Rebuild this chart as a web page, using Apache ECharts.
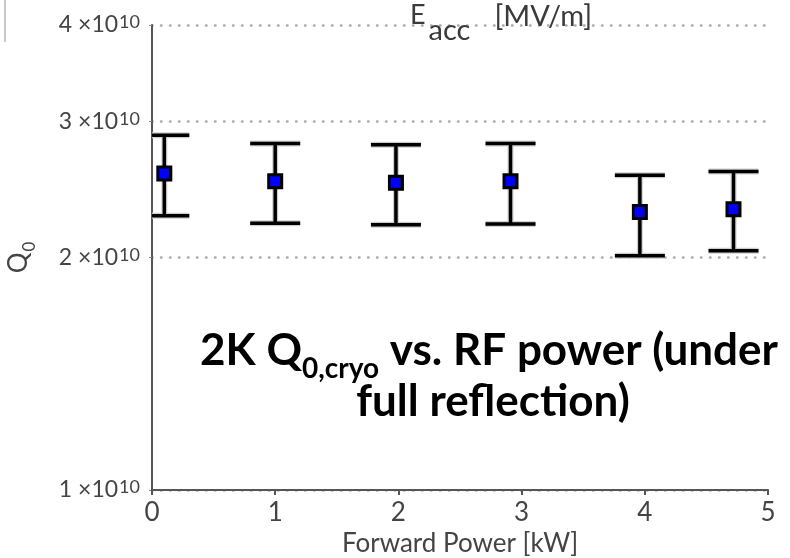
<!DOCTYPE html>
<html><head><meta charset="utf-8">
<script src="https://cdn.jsdelivr.net/npm/echarts@6/dist/echarts.min.js"></script>
<style>html,body{margin:0;padding:0;background:#fff}#c{width:790px;height:558px}</style>
</head><body><div id="c"></div>
<script>
// Forward power [kW]
const forwardPower = [0.1, 1.0, 1.98, 2.91, 3.96, 4.72];
// Q0 central values and error-bar bounds
const q0 = [2.57e10, 2.51e10, 2.50e10, 2.51e10, 2.29e10, 2.31e10];
const q0Upper = [2.88e10, 2.81e10, 2.80e10, 2.81e10, 2.555e10, 2.585e10];
const q0Lower = [2.265e10, 2.215e10, 2.205e10, 2.21e10, 2.01e10, 2.04e10];
// Axis ticks
const xTicks = [0, 1, 2, 3, 4, 5];
const yTicks = [1e10, 2e10, 3e10, 4e10];

const FONT = 'Lato, "DejaVu Sans", sans-serif';
const TXT = '#444';

const points = forwardPower.map((x, i) => [x, q0[i]]);
const bars = forwardPower.map((x, i) => [x, q0Lower[i], q0Upper[i]]);

const chart = echarts.init(document.getElementById('c'), null, {renderer: 'canvas'});
chart.setOption({
  animation: false,
  backgroundColor: '#fff',
  grid: {left: 152, right: 22, top: 25, bottom: 68, containLabel: false, outerBoundsMode: 'none'},
  xAxis: {
    type: 'value', min: xTicks[0], max: xTicks[xTicks.length - 1], interval: 1,
    axisLine: {show: true, lineStyle: {color: '#555', width: 2}},
    axisTick: {show: true, length: 5, lineStyle: {color: '#555', width: 2}},
    axisLabel: {fontSize: 26, color: TXT, fontFamily: FONT, margin: 10},
    splitLine: {show: false},
    name: 'Forward Power [kW]', nameLocation: 'middle', nameGap: 39,
    nameTextStyle: {fontSize: 26, color: TXT, fontFamily: FONT}
  },
  yAxis: {
    type: 'log', logBase: 10, min: yTicks[0], max: yTicks[yTicks.length - 1],
    axisLine: {show: true, lineStyle: {color: '#555', width: 2}},
    axisTick: {show: true, customValues: yTicks, length: 3, lineStyle: {color: '#888', width: 1}},
    axisLabel: {
      customValues: yTicks, margin: 12, fontFamily: FONT,
      formatter: function (v) {
        const m = Math.round(v / 1e10);
        return '{m|' + m + ' \u00d710}{s|10}';
      },
      rich: {
        m: {fontSize: 23, color: TXT, fontFamily: FONT, lineHeight: 23, verticalAlign: 'bottom', padding: [13, 0, 0, 0]},
        s: {fontSize: 18, color: TXT, fontFamily: FONT, lineHeight: 18, verticalAlign: 'top', padding: [0, 0, 0, 1]}
      }
    },
    splitLine: {show: true, lineStyle: {type: [0.5, 8.5], color: '#aaa', width: 2.5, cap: 'round'}},
    name: '{q|Q}{s|0}', nameLocation: 'middle', nameRotate: 90, nameGap: 120,
    nameTextStyle: {
      rich: {
        q: {fontSize: 26, color: TXT, fontFamily: FONT, lineHeight: 26, verticalAlign: 'top'},
        s: {fontSize: 17, color: TXT, fontFamily: FONT, lineHeight: 17, verticalAlign: 'top', padding: [15, 0, 0, 1]}
      }
    }
  },
  series: [
    {
      type: 'custom', data: bars, clip: true, z: 2,
      encode: {x: 0, y: [1, 2]},
      renderItem: function (params, api) {
        const x = api.value(0);
        const pLo = api.coord([x, api.value(1)]);
        const pHi = api.coord([x, api.value(2)]);
        const hw = 25;
        const segs = [
          [pHi[0], pHi[1], pLo[0], pLo[1]],
          [pHi[0] - hw, pHi[1], pHi[0] + hw, pHi[1]],
          [pLo[0] - hw, pLo[1], pLo[0] + hw, pLo[1]]
        ];
        const children = [];
        segs.forEach(s => children.push({type: 'line', shape: {x1: s[0], y1: s[1], x2: s[2], y2: s[3]}, style: {stroke: '#cfcfcf', lineWidth: 6}}));
        segs.forEach(s => children.push({type: 'line', shape: {x1: s[0], y1: s[1], x2: s[2], y2: s[3]}, style: {stroke: '#000', lineWidth: 3.5}}));
        return {type: 'group', children: children};
      }
    },
    {
      type: 'scatter', data: points, z: 3, clip: false,
      symbol: 'rect', symbolSize: 13,
      itemStyle: {color: '#0000ff', borderColor: '#000', borderWidth: 3, opacity: 1}
    }
  ],
  graphic: [
    {type: 'line', shape: {x1: 5, y1: 0, x2: 5, y2: 42}, style: {stroke: '#c8c8c8', lineWidth: 2}},
    {
      type: 'text', x: 410, y: 2, z: 10,
      style: {
        text: '{e|E}{a|acc}{m|[MV/m]}', align: 'left', verticalAlign: 'top',
        rich: {
          e: {fontSize: 27, fill: '#3a3a3a', fontFamily: FONT, lineHeight: 27, verticalAlign: 'top'},
          a: {fontSize: 29, fill: '#3a3a3a', fontFamily: FONT, lineHeight: 29, verticalAlign: 'top', padding: [14, 0, 0, 3]},
          m: {fontSize: 29, fill: '#3a3a3a', fontFamily: FONT, lineHeight: 29, verticalAlign: 'top', padding: [0, 0, 0, 24]}
        }
      }
    },
    {
      type: 'text', x: 489, y: 329, z: 10,
      style: {
        text: '{b|2K Q}{s|0,cryo}{b| vs. RF power (under}', align: 'center', verticalAlign: 'top',
        rich: {
          b: {fontSize: 44, fontWeight: 'bold', fill: '#000', fontFamily: FONT, lineHeight: 44, verticalAlign: 'top'},
          s: {fontSize: 28, fontWeight: 'bold', fill: '#000', fontFamily: FONT, lineHeight: 28, verticalAlign: 'top', padding: [26, 0, 0, 0]}
        }
      }
    },
    {
      type: 'text', x: 493, y: 380, z: 10,
      style: {
        text: 'full reflection)', align: 'center', verticalAlign: 'top',
        fontSize: 44, fontWeight: 'bold', fill: '#000', fontFamily: FONT, lineHeight: 44
      }
    }
  ]
});
</script>
</body></html>
